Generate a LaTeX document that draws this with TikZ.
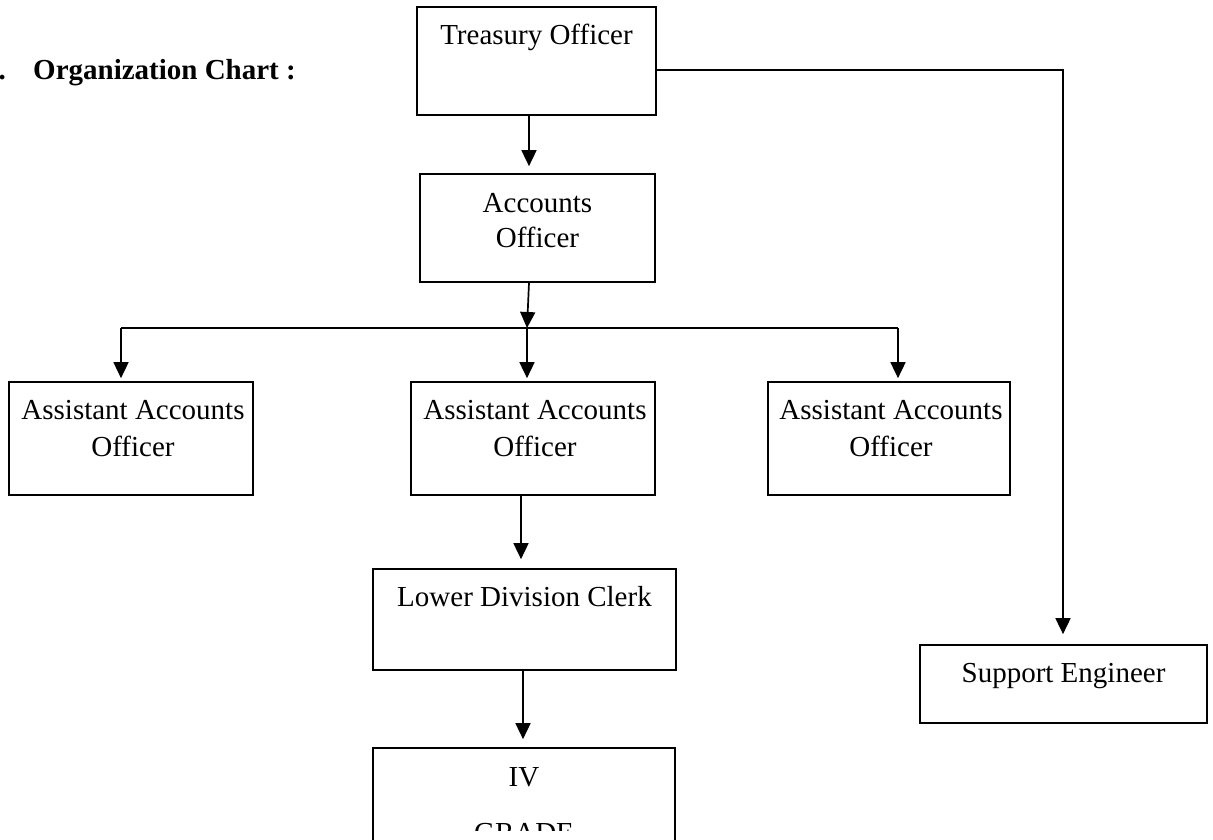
\documentclass[tikz,border=0pt]{standalone}
\usepackage{fontspec}
\setmainfont{Liberation Serif}
\usetikzlibrary{arrows.meta}
\begin{document}
\begin{tikzpicture}[x=1pt,y=-1pt,
  box/.style={draw, line width=1.7pt, inner sep=0pt},
  lbl/.style={font=\fontsize{29}{37}\selectfont, align=center, inner sep=0pt, anchor=base},
  conn/.style={line width=1.7pt},
  arr/.style={conn, -{Triangle[length=16pt,width=15pt]}}]
\useasboundingbox (0,0) rectangle (1213,840);
\clip (0,0) rectangle (1213,840);
% boxes
\node[box, minimum width=239pt, minimum height=108pt] (to) at (536.5,61) {};
\node[box, minimum width=235pt, minimum height=108pt] (ao) at (537.5,228) {};
\node[box, minimum width=244pt, minimum height=113pt] (aao1) at (131,438.5) {};
\node[box, minimum width=244pt, minimum height=113pt] (aao2) at (533,438.5) {};
\node[box, minimum width=242pt, minimum height=113pt] (aao3) at (889,438.5) {};
\node[box, minimum width=303pt, minimum height=101pt] (ldc) at (524.5,619.5) {};
\node[box, minimum width=302pt, minimum height=132pt] (iv) at (524,814) {};
\node[box, minimum width=287pt, minimum height=78pt] (se) at (1063.5,684) {};
% texts (base anchor of a two-line node is the baseline of its last line)
\node[font=\fontsize{29}{37}\selectfont\bfseries, inner sep=0pt, anchor=base east] (num) at (6,80) {1.};
\node[font=\fontsize{29}{37}\selectfont\bfseries, inner sep=0pt, anchor=base west] (title) at (33,80) {Organization Chart :};
\node[lbl] (to-t) at ([yshift=-38pt]to.north) {Treasury Officer};
\node[lbl, font=\fontsize{29}{35}\selectfont] (ao-t) at ([yshift=-74pt]ao.north) {Accounts\\Officer};
\node[lbl] (aao1-t) at ([xshift=2pt,yshift=-75pt]aao1.north) {Assistant Accounts\\Officer};
\node[lbl] (aao2-t) at ([xshift=2pt,yshift=-75pt]aao2.north) {Assistant Accounts\\Officer};
\node[lbl] (aao3-t) at ([xshift=2pt,yshift=-75pt]aao3.north) {Assistant Accounts\\Officer};
\node[lbl] (ldc-t) at ([yshift=-38pt]ldc.north) {Lower Division Clerk};
\node[lbl] (se-t) at ([yshift=-38pt]se.north) {Support Engineer};
\node[lbl] (iv-t) at ([yshift=-39pt]iv.north) {IV};
\begin{scope}
  \clip (373,748) rectangle (675,830);
  \node[lbl] (gr-t) at ([yshift=-95pt]iv.north) {GRADE};
\end{scope}
% connectors
\coordinate (bus) at (527,328);
\coordinate (busL) at (121,328);
\coordinate (busR) at (898,328);
\coordinate (corner) at (1063,70);
\draw[arr, shorten >=7pt] ([xshift=-7.5pt]to.south) -- ([xshift=-8.5pt]ao.north);
\draw[arr] ([xshift=-8.5pt]ao.south) -- (bus);
\draw[conn] (busL) -- (busR);
\draw[arr, shorten >=3pt] (busL) -- (busL |- aao1.north);
\draw[arr, shorten >=3pt] (bus) -- (bus |- aao2.north);
\draw[arr, shorten >=3pt] (busR) -- (busR |- aao3.north);
\draw[arr, shorten >=9pt] ([xshift=-12pt]aao2.south) -- ([xshift=-12pt]aao2.south |- ldc.north);
\draw[arr, shorten >=8pt] ([xshift=-1.5pt]ldc.south) -- ([xshift=-1.5pt]ldc.south |- iv.north);
\draw[arr, shorten >=10pt] (to.east |- corner) -- (corner) -- (corner |- se.north);
\end{tikzpicture}
\end{document}
